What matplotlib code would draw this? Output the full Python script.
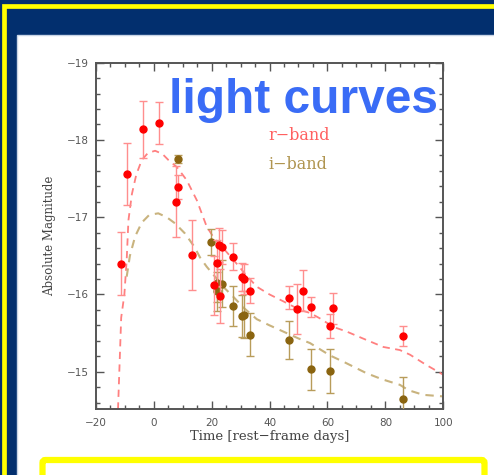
import matplotlib
matplotlib.use("Agg")
import matplotlib.pyplot as plt
from matplotlib.patches import Rectangle, FancyBboxPatch
from matplotlib.ticker import MultipleLocator

# r-band photometry: rest-frame days, absolute magnitude, 1-sigma error
r_days = [-11.4, -9.3, -3.6, 2.0, 8.5, 7.6, 13.4, 20.8, 21.8, 22.7, 23.7, 22.9,
          27.5, 30.4, 31.3, 33.4, 46.6, 49.5, 51.7, 54.3, 61.0, 61.8, 86.1]
r_mag = [-16.40, -17.56, -18.14, -18.22, -17.39, -17.20, -16.51, -16.12, -16.41,
         -16.64, -16.61, -15.98, -16.49, -16.23, -16.20, -16.05, -15.96, -15.81,
         -16.05, -15.84, -15.59, -15.82, -15.46]
r_err = [0.41, 0.40, 0.37, 0.27, 0.15, 0.46, 0.45, 0.38, 0.30, 0.22, 0.22, 0.35,
         0.17, 0.18, 0.20, 0.16, 0.15, 0.32, 0.26, 0.13, 0.16, 0.20, 0.13]

# i-band photometry
i_days = [8.5, 19.9, 22.0, 23.7, 22.0, 27.5, 30.4, 31.3, 33.4, 46.6, 54.3, 61.0, 86.1]
i_mag = [-17.75, -16.68, -16.15, -16.14, -16.04, -15.85, -15.72, -15.74, -15.48,
         -15.41, -15.03, -15.01, -14.65]
i_err = [0.05, 0.17, 0.25, 0.30, 0.25, 0.26, 0.27, 0.30, 0.28, 0.25, 0.27, 0.28, 0.28]

# model light curves
r_model_days = [-12.3, -11.2, -10.1, -9.3, -8.7, -7.5, -6.0, -4.1, -2.0, 0.5, 3.0,
                5.1, 8.0, 11.4, 14.9, 18.3, 21.0, 24.0, 27.5, 31.5, 35.6, 40.0,
                44.8, 50.5, 54.0, 57.4, 62.0, 66.6, 73.5, 79.3, 85.0, 88.5, 94.0, 100.0]
r_model_mag = [-14.51, -15.70, -16.00, -16.45, -16.96, -17.30, -17.55, -17.74, -17.83,
               -17.86, -17.82, -17.74, -17.65, -17.48, -17.22, -16.88, -16.72, -16.60,
               -16.45, -16.27, -16.10, -16.00, -15.91, -15.80, -15.76, -15.69, -15.58,
               -15.52, -15.41, -15.32, -15.28, -15.22, -15.09, -14.96]
i_model_days = [-9.3, -8.2, -6.4, -4.1, -1.5, 1.6, 4.5, 7.4, 10.8, 14.0, 16.0, 18.3,
                21.2, 24.0, 27.5, 31.0, 35.6, 40.0, 45.9, 50.0, 54.0, 57.0, 60.9,
                66.0, 73.5, 79.0, 85.0, 88.0, 93.1, 100.0]
i_model_mag = [-16.23, -16.50, -16.75, -16.93, -17.03, -17.05, -17.00, -16.92, -16.79,
               -16.62, -16.48, -16.36, -16.23, -16.10, -15.97, -15.83, -15.68, -15.60,
               -15.50, -15.43, -15.37, -15.30, -15.21, -15.12, -14.98, -14.90, -14.83,
               -14.76, -14.70, -14.68]

band_labels = ["r\u2212band", "i\u2212band"]
title_text = "light curves"

W, H = 494, 475
fig = plt.figure(figsize=(W / 100, H / 100), dpi=100)
fig.patch.set_facecolor("#022f6e")


def fx(px):
    return px / W


def fy(py):
    return 1 - py / H


# slide frame: yellow rule, white panel, lower yellow box
fig.add_artist(Rectangle((fx(4.2), fy(600)), fx(600), fy(5.8) - fy(600),
                         transform=fig.transFigure, facecolor="none",
                         edgecolor="#ffff00", linewidth=3.4, zorder=-10))
fig.add_artist(Rectangle((fx(16.7), fy(600)), fx(600), fy(35) - fy(600),
                         transform=fig.transFigure, facecolor="white",
                         edgecolor="#c9d5e6", linewidth=1.0, zorder=-9))
fig.add_artist(FancyBboxPatch((fx(42.5), fy(520)), fx(484.5 - 42.5), fy(460) - fy(520),
                              boxstyle="round,pad=0,rounding_size=0.006",
                              transform=fig.transFigure, facecolor="white",
                              edgecolor="#ffff00", linewidth=4.5, zorder=-8))

ax = fig.add_axes([fx(95.7), fy(409.3), fx(443.3 - 95.7), fy(62.7) - fy(409.3)])
ax.set_facecolor("white")

ax.plot(r_model_days, r_model_mag, color="#ff8080", lw=1.3, dashes=(4, 3), zorder=2)
ax.plot(i_model_days, i_model_mag, color="#c9b37e", lw=1.5, dashes=(4, 3), zorder=2)

ax.errorbar(r_days, r_mag, yerr=r_err, fmt="o", color="#ff0000", ms=5.0,
            ecolor="#ff8e8e", elinewidth=1.0, capsize=2.6, capthick=1.0, zorder=4)
ax.errorbar(i_days, i_mag, yerr=i_err, fmt="o", color="#8a6410", ms=5.0,
            ecolor="#b89c5a", elinewidth=1.0, capsize=2.6, capthick=1.0, zorder=3)

ax.set_xlim(-20, 100)
ax.set_ylim(-14.513, -19)
ax.xaxis.set_major_locator(MultipleLocator(20))
ax.xaxis.set_minor_locator(MultipleLocator(5))
ax.yaxis.set_major_locator(MultipleLocator(1))
ax.yaxis.set_minor_locator(MultipleLocator(0.2))
ax.tick_params(which="both", direction="in", top=True, right=True, color="#555555",
               width=1.0)
ax.tick_params(which="major", length=6)
ax.tick_params(which="minor", length=3)
ax.tick_params(axis="y", labelsize=7.5, labelcolor="#555555", pad=5)
ax.tick_params(axis="x", labelsize=7.5, labelcolor="#555555", pad=6)
for s in ax.spines.values():
    s.set_color("#555555")
    s.set_linewidth(1.4)

ax.set_xlabel("Time [rest\u2212frame days]", family="DejaVu Serif", fontsize=9.5,
              color="#444444", labelpad=2)
ax.set_ylabel("Absolute Magnitude", family="DejaVu Serif", fontsize=8.5,
              color="#444444", labelpad=8)

ax.text(0.496, 0.791, band_labels[0], transform=ax.transAxes, family="DejaVu Serif",
        fontsize=11.5, color="#ff6060", ha="left", va="center")
ax.text(0.496, 0.705, band_labels[1], transform=ax.transAxes, family="DejaVu Serif",
        fontsize=11.5, color="#b09550", ha="left", va="center")

fig.text(fx(169), fy(113), title_text, family="Liberation Sans", weight="bold",
         fontsize=34.5, color="#3a6cf6", ha="left", va="baseline", zorder=10)

fig.savefig("out.png", dpi=100, facecolor=fig.get_facecolor())
